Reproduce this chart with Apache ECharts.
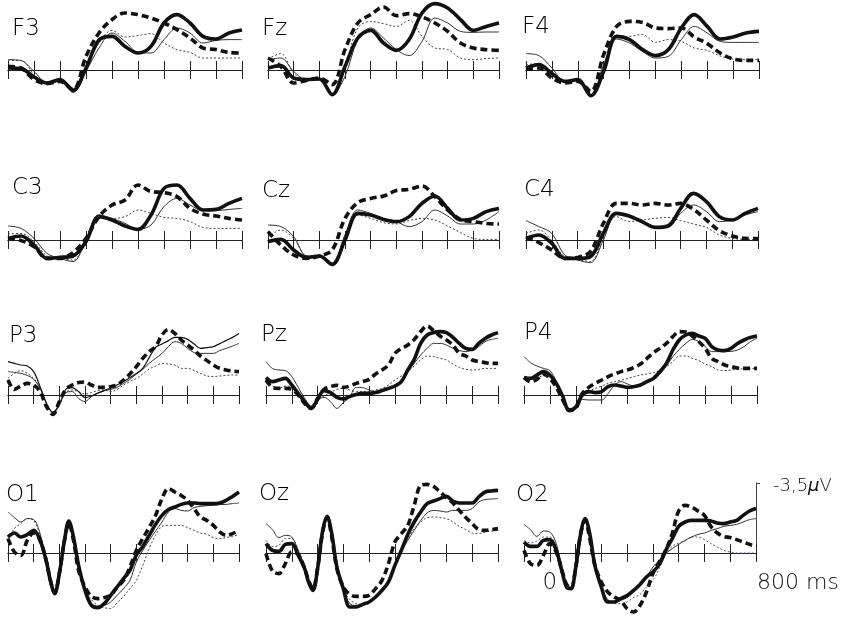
<!DOCTYPE html>
<html><head><meta charset="utf-8">
<script src="https://cdn.jsdelivr.net/npm/echarts@6/dist/echarts.min.js"></script>
<style>html,body{margin:0;padding:0;background:#fff}#c{width:848px;height:619px}</style>
</head><body><div id="c"></div>
<script>
// time samples (ms)
const T50 = [-100,-50,0,50,100,150,200,250,300,350,400,450,500,550,600,650,700,750,800];
const T25 = [-100,-75,-50,-25,0,25,50,75,100,125,150,175,200,225,250,275,300,325,350,375,400,425,450,475,500,525,550,575,600,625,650,675,700,725,750,775,800];
const T4 = [-100,-75,-50,-25,0,25,50,65,82,100,120,137,155,175,200,225,250,275,300,325,350,375,400,425,450,475,500,525,550,575,600,625,650,675,700,725,750,775,800];

const electrodes = ['F3','Fz','F4','C3','Cz','C4','P3','Pz','P4','O1','Oz','O2'];

// values in µV (negative plotted upward)
const F3_thick  = [-0.1,-0.07,0.35,0.65,0.48,1.02,-0.1,-1.5,-1.68,-1.18,-0.85,-1.18,-2.35,-2.77,-2.35,-1.68,-1.55,-1.85,-2.0];
const F3_dashed = [-0.18,-0.1,0.48,0.68,0.57,0.98,-0.68,-1.85,-2.52,-2.85,-2.77,-2.6,-2.35,-2.02,-1.6,-1.1,-1.02,-0.88,-0.85];
const F3_thin   = [-0.52,-0.47,0.07,0.62,0.52,1.12,0.07,-1.1,-1.85,-1.43,-0.88,-0.85,-1.52,-2.1,-1.85,-1.35,-1.48,-1.52,-1.52];
const F3_dotted = [-0.48,-0.48,0.23,0.65,0.52,1.07,-0.18,-1.35,-1.98,-1.65,-1.72,-1.82,-1.35,-1.02,-0.88,-0.6,-0.6,-0.6,-0.6];

const Fz_thick  = [-0.1,-0.22,0.4,0.48,0.45,1.23,-0.18,-1.6,-1.98,-1.35,-0.98,-1.52,-2.85,-3.32,-3.1,-2.52,-1.98,-2.18,-2.35];
const Fz_dashed = [-0.6,-0.18,0.65,0.52,0.4,0.73,-1.02,-2.35,-2.77,-3.15,-2.72,-2.82,-2.65,-2.35,-1.93,-1.35,-1.1,-1.02,-0.98];
const Fz_thin   = [-0.52,-0.6,0.07,0.48,0.42,1.23,0.32,-1.52,-2.1,-1.6,-1.02,-0.72,-1.43,-2.6,-2.35,-1.93,-1.88,-1.9,-1.9];
const Fz_dotted = [-0.55,-0.82,0.15,0.52,0.42,1.18,-0.18,-2.1,-2.43,-2.32,-2.18,-2.48,-1.68,-1.1,-1.02,-0.6,-0.52,-0.57,-0.6];

const F4_thick  = [-0.1,-0.27,0.18,0.57,0.48,1.28,0.07,-1.68,-1.52,-1.02,-0.72,-1.02,-2.1,-2.77,-2.18,-1.55,-1.65,-1.85,-1.93];
const F4_dashed = [-0.02,-0.1,0.4,0.65,0.57,1.07,-0.77,-2.18,-2.43,-2.38,-2.1,-2.07,-2.1,-1.65,-1.32,-0.85,-0.55,-0.48,-0.48];
const F4_thin   = [-0.82,-0.72,-0.1,0.57,0.52,1.32,-0.27,-1.55,-1.35,-0.93,-0.6,-0.68,-1.52,-2.18,-1.85,-1.43,-1.38,-1.38,-1.38];
const F4_dotted = [-0.27,-0.32,0.23,0.57,0.52,1.28,-0.18,-1.6,-1.68,-1.77,-1.38,-1.52,-1.43,-1.1,-0.98,-0.7,-0.55,-0.52,-0.52];

const C3_thick  = [-0.08,-0.2,0.25,0.92,0.87,0.8,0.08,-1.17,-1.0,-0.7,-0.53,-1.25,-2.58,-2.75,-2.08,-1.5,-1.53,-1.83,-2.08];
const C3_dashed = [-0.08,0.03,0.33,0.92,0.92,0.63,-0.08,-1.17,-1.75,-2.0,-2.75,-2.42,-2.37,-2.17,-1.58,-1.3,-1.2,-1.08,-1.0];
const C3_thin   = [-0.7,-0.58,-0.08,0.67,0.92,1.08,0,-1.25,-1.08,-0.83,-0.53,-0.75,-1.67,-2.08,-1.75,-1.47,-1.47,-1.53,-1.58];
const C3_dotted = [-0.3,-0.33,0.08,0.8,0.92,1.0,-0.03,-1.25,-1.08,-1.17,-1.5,-1.33,-1.13,-1.08,-0.92,-0.63,-0.58,-0.58,-0.58];

const Cz_thick  = [0.08,-0.03,0.5,0.87,0.8,1.22,0,-1.33,-1.25,-1.03,-0.92,-1.17,-1.83,-2.2,-1.58,-1.0,-1.08,-1.42,-1.58];
const Cz_dashed = [-0.42,0.25,0.75,0.92,0.8,0.5,-1.08,-1.87,-2.08,-2.2,-2.47,-2.53,-2.7,-2.17,-1.5,-1.03,-0.92,-0.83,-0.8];
const Cz_thin   = [-0.75,-0.67,-0.17,0.8,0.83,1.22,-0.25,-1.5,-1.33,-1.08,-0.92,-0.67,-0.92,-1.5,-1.2,-0.8,-0.8,-1.0,-1.42];
const Cz_dotted = [-0.13,-0.5,-0.08,0.8,0.83,1.17,-0.25,-1.25,-1.08,-0.87,-0.8,-0.97,-1.08,-1.0,-0.7,-0.37,-0.08,-0.03,-0.03];

const C4_thick  = [-0.08,-0.25,0.17,0.92,0.92,0.83,-0.33,-1.33,-1.2,-0.92,-0.63,-0.7,-1.58,-2.33,-1.92,-1.17,-1.0,-1.33,-1.58];
const C4_dashed = [-0.13,0.13,0.5,0.92,0.87,0.58,-0.83,-1.83,-1.83,-1.75,-1.83,-1.75,-1.83,-1.53,-1.0,-0.47,-0.2,-0.08,-0.07];
const C4_thin   = [-0.97,-0.67,-0.33,0.75,1.0,1.13,0,-1.3,-1.17,-0.97,-0.63,-0.63,-1.33,-1.75,-1.42,-0.92,-1.0,-1.25,-1.42];
const C4_dotted = [-0.33,-0.5,0.03,0.83,0.97,1.08,-0.13,-1.17,-0.92,-1.0,-1.08,-1.13,-0.97,-0.8,-0.63,-0.25,-0.08,-0.03,0];

const P3_thick  = [-1.67,-1.58,-1.5,-1.45,-1.17,-0.42,0.42,0.88,0.5,-0.28,-0.37,-0.17,0.13,0.05,-0.1,-0.22,-0.35,-0.5,-0.67,-0.87,-1.08,-1.33,-1.87,-2.38,-2.55,-2.72,-2.88,-2.88,-2.78,-2.55,-2.33,-2.37,-2.42,-2.57,-2.73,-2.88,-3.08];
const P3_dashed = [-0.75,-0.28,-0.45,-0.58,-0.5,-0.17,0.58,0.97,0.33,-0.28,-0.5,-0.62,-0.65,-0.5,-0.38,-0.38,-0.42,-0.5,-0.75,-1.05,-1.42,-1.83,-2.17,-2.42,-3.0,-3.28,-3.08,-2.75,-2.5,-2.25,-1.95,-1.72,-1.5,-1.33,-1.25,-1.2,-1.17];
const P3_thin   = [-1.17,-1.13,-1.08,-0.98,-0.78,-0.33,0.42,0.85,0.45,-0.12,-0.17,0.17,0.33,0.08,-0.08,-0.22,-0.28,-0.38,-0.58,-0.78,-1.05,-1.28,-1.58,-1.83,-2.08,-2.42,-2.67,-2.58,-2.33,-2.12,-2.08,-2.08,-2.08,-2.22,-2.33,-2.45,-2.58];
const P3_dotted = [-0.83,-1.08,-1.22,-1.08,-0.83,-0.38,0.42,0.88,0.45,-0.12,-0.25,-0.17,-0.05,-0.12,-0.22,-0.25,-0.17,-0.28,-0.5,-0.67,-0.83,-1.05,-1.3,-1.45,-1.58,-1.55,-1.5,-1.33,-1.33,-1.22,-1.08,-0.95,-0.92,-0.95,-0.98,-1.0,-1.0];

const Pz_thick  = [-0.88,-0.67,-0.75,-0.83,-0.5,-0.08,0.33,0.67,0.22,-0.22,-0.12,0.12,0.2,0.08,-0.03,-0.08,-0.08,-0.12,-0.22,-0.33,-0.45,-0.67,-1.25,-1.78,-2.58,-3.0,-3.12,-3.17,-3.12,-2.88,-2.58,-2.33,-2.28,-2.58,-2.83,-3.0,-3.12];
const Pz_dashed = [-0.75,-0.38,-0.33,-0.33,-0.28,0,0.42,0.67,0.18,-0.28,-0.42,-0.48,-0.38,-0.45,-0.58,-0.67,-0.78,-1.05,-1.25,-1.5,-2.08,-2.33,-2.5,-2.78,-3.17,-3.45,-3.22,-2.95,-2.75,-2.5,-2.08,-1.95,-1.75,-1.67,-1.62,-1.58,-1.58];
const Pz_thin   = [-1.67,-1.33,-1.25,-1.22,-0.92,-0.38,0.17,0.55,0.25,0.12,0.33,0.67,0.38,0.08,-0.38,-0.37,-0.25,-0.17,-0.22,-0.32,-0.42,-0.75,-1.17,-1.58,-2.0,-2.33,-2.58,-2.58,-2.5,-2.33,-2.22,-2.17,-2.25,-2.42,-2.67,-2.78,-2.83];
const Pz_dotted = [-0.67,-0.45,-0.33,-0.45,-0.38,0,0.38,0.62,0.25,0.05,-0.12,-0.28,-0.33,-0.25,-0.17,-0.17,-0.17,-0.25,-0.33,-0.5,-0.75,-0.95,-1.17,-1.45,-1.75,-1.95,-1.92,-1.83,-1.75,-1.55,-1.38,-1.28,-1.25,-1.28,-1.33,-1.33,-1.33];

const P4_thick  = [-0.88,-0.83,-1.0,-1.17,-1.0,-0.58,0.08,0.78,0.6,0,-0.17,-0.12,-0.17,-0.42,-0.5,-0.45,-0.38,-0.42,-0.5,-0.67,-0.83,-1.17,-1.58,-2.25,-2.75,-3.0,-3.08,-2.95,-2.83,-2.42,-2.25,-2.22,-2.33,-2.58,-2.75,-2.88,-2.95];
const P4_dashed = [-0.88,-0.67,-0.78,-1.05,-0.83,-0.38,0.25,0.75,0.67,-0.08,-0.38,-0.58,-0.75,-0.92,-1.05,-1.17,-1.25,-1.38,-1.55,-1.83,-2.12,-2.33,-2.58,-2.92,-3.17,-3.15,-2.95,-2.67,-2.33,-1.83,-1.67,-1.5,-1.42,-1.35,-1.33,-1.33,-1.33];
const P4_thin   = [-1.92,-1.62,-1.45,-1.33,-1.22,-0.67,0,0.67,0.67,0.22,0.25,0.25,0.25,-0.08,-0.5,-0.67,-0.55,-0.45,-0.5,-0.62,-0.78,-1.05,-1.45,-1.92,-2.28,-2.58,-2.78,-2.67,-2.42,-2.17,-2.17,-2.17,-2.18,-2.25,-2.42,-2.67,-2.83];
const P4_dotted = [-0.88,-0.83,-0.88,-0.95,-0.88,-0.45,0.17,0.72,0.67,0.08,-0.17,-0.33,-0.45,-0.58,-0.67,-0.75,-0.82,-0.92,-1.0,-1.05,-1.12,-1.22,-1.42,-1.67,-1.95,-1.95,-1.83,-1.72,-1.55,-1.42,-1.25,-1.22,-1.25,-1.28,-1.32,-1.33,-1.33];

const O1_thick  = [-0.8,-1.0,-0.8,-0.92,-1.13,-0.63,0.45,1.37,2.03,1.03,-0.63,-1.6,-0.8,0.62,1.87,2.62,2.73,2.53,2.12,1.7,1.28,0.87,0.1,-0.33,-0.88,-1.43,-1.88,-2.17,-2.3,-2.43,-2.5,-2.5,-2.47,-2.47,-2.47,-2.5,-2.63,-2.83,-3.05];
const O1_dashed = [-0.72,-0.05,0.12,-0.63,-1.0,-0.63,0.45,1.37,2.0,1.03,-0.63,-1.47,-0.63,0.87,1.7,2.17,2.28,2.23,2.12,1.7,1.37,0.7,-0.13,-0.72,-1.27,-1.88,-2.72,-3.22,-3.05,-2.88,-2.63,-2.22,-1.8,-1.63,-1.38,-1.05,-0.88,-0.97,-1.13];
const O1_thin   = [-2.05,-1.77,-1.55,-1.72,-1.67,-0.97,0.45,1.37,1.95,0.95,-0.63,-1.5,-0.72,0.7,1.95,2.53,2.67,2.62,2.45,2.12,1.78,1.37,0.45,-0.13,-0.63,-1.1,-1.55,-2.05,-2.22,-2.13,-2.1,-2.27,-2.33,-2.37,-2.38,-2.42,-2.43,-2.47,-2.5];
const O1_dotted = [-0.72,-1.22,-1.47,-1.72,-1.63,-0.88,0.45,1.33,1.95,0.95,-0.63,-1.55,-0.63,0.78,1.78,2.33,2.62,2.73,2.78,2.5,2.17,1.78,1.37,0.62,-0.22,-0.88,-1.33,-1.38,-1.38,-1.38,-1.27,-1.13,-1.0,-0.93,-0.77,-0.72,-0.77,-0.83,-0.93];

const Oz_thick  = [-0.47,-0.13,-0.08,-0.43,-0.47,0.12,0.78,1.45,1.87,0.78,-1.13,-1.83,-0.97,0.7,1.78,2.7,2.7,2.57,2.45,2.2,1.87,1.45,0.62,-0.13,-0.93,-1.55,-2.05,-2.47,-2.6,-2.72,-2.83,-2.6,-2.5,-2.5,-2.5,-2.8,-3.05,-3.1,-3.13];
const Oz_dashed = [0.03,0.9,1.03,0.53,-0.05,0.07,0.78,1.37,1.78,0.78,-1.05,-1.77,-0.8,0.78,1.7,2.07,2.17,2.17,2.12,1.78,1.37,0.53,-0.55,-0.97,-1.38,-2.38,-3.38,-3.43,-3.33,-3.05,-2.77,-2.5,-2.13,-1.77,-1.47,-1.17,-1.13,-1.17,-1.22];
const Oz_thin   = [-1.47,-1.17,-0.77,-0.88,-0.8,-0.13,0.7,1.33,1.78,0.78,-1.1,-1.8,-0.88,0.78,1.87,2.53,2.62,2.57,2.45,2.12,1.78,1.37,0.7,-0.05,-0.63,-1.13,-1.63,-2.0,-2.13,-2.1,-2.05,-2.13,-2.13,-2.13,-2.22,-2.55,-2.67,-2.7,-2.72];
const Oz_dotted = [-0.63,-0.33,-0.38,-0.72,-0.72,-0.13,0.7,1.33,1.78,0.78,-1.05,-1.77,-0.8,0.62,1.78,2.33,2.53,2.57,2.53,2.2,1.87,1.37,0.53,-0.22,-0.72,-1.22,-1.55,-1.77,-1.8,-1.77,-1.72,-1.55,-1.33,-1.17,-1.0,-0.97,-1.05,-1.1,-1.13];

const O2_thick  = [-0.55,-0.33,-0.33,-0.63,-0.67,-0.13,1.05,1.7,1.78,0.78,-0.97,-1.72,-0.97,0.62,1.7,2.45,2.45,2.28,2.12,1.87,1.57,1.2,0.95,0.57,-0.13,-0.72,-1.33,-1.55,-1.63,-1.63,-1.63,-1.6,-1.5,-1.47,-1.55,-1.63,-1.88,-2.1,-2.22];
const O2_dashed = [-0.13,0.53,0.62,0.12,-0.47,-0.05,1.0,1.57,1.78,0.78,-0.97,-1.63,-0.72,0.62,1.45,1.95,2.2,2.37,2.78,2.95,2.62,1.95,1.03,0.45,-0.13,-0.97,-2.1,-2.38,-2.3,-2.1,-1.88,-1.33,-1.0,-0.83,-0.77,-0.67,-0.55,-0.43,-0.33];
const O2_thin   = [-1.43,-1.17,-0.83,-1.1,-1.05,-0.47,0.95,1.53,1.78,0.78,-1.0,-1.72,-0.88,0.62,1.7,2.33,2.45,2.37,2.23,1.95,1.57,1.2,0.7,0.37,0.03,-0.22,-0.43,-0.63,-0.8,-0.93,-1.0,-1.13,-1.22,-1.33,-1.38,-1.43,-1.55,-1.67,-1.72];
const O2_dotted = [-0.63,-0.5,-0.6,-0.8,-0.8,-0.3,0.95,1.53,1.78,0.78,-1.0,-1.67,-0.8,0.7,1.78,2.33,2.53,2.53,2.45,2.23,2.07,1.7,1.37,0.78,0.03,-0.33,-0.5,-0.6,-0.8,-0.8,-0.67,-0.47,-0.3,-0.13,-0.05,0,0,0,0];

const scaleValue = -3.5; // µV scale bar
const axisLabelTimes = [0, 800];

const panels = [
  {t:T50, s:[F3_thick,F3_dashed,F3_thin,F3_dotted]},
  {t:T50, s:[Fz_thick,Fz_dashed,Fz_thin,Fz_dotted]},
  {t:T50, s:[F4_thick,F4_dashed,F4_thin,F4_dotted]},
  {t:T50, s:[C3_thick,C3_dashed,C3_thin,C3_dotted]},
  {t:T50, s:[Cz_thick,Cz_dashed,Cz_thin,Cz_dotted]},
  {t:T50, s:[C4_thick,C4_dashed,C4_thin,C4_dotted]},
  {t:T25, s:[P3_thick,P3_dashed,P3_thin,P3_dotted]},
  {t:T25, s:[Pz_thick,Pz_dashed,Pz_thin,Pz_dotted]},
  {t:T25, s:[P4_thick,P4_dashed,P4_thin,P4_dotted]},
  {t:T4, s:[O1_thick,O1_dashed,O1_thin,O1_dotted]},
  {t:T4, s:[Oz_thick,Oz_dashed,Oz_thin,Oz_dotted]},
  {t:T4, s:[O2_thick,O2_dashed,O2_thin,O2_dotted]}
];

// layout: [left, width, baselineY, labelX, labelCapTop]
const layout = [
  [8,234,70, 13,22],[268,231,70, 263,22],[526,233,70, 523,20],
  [8,234,240, 13,181],[268,231,240, 263,184],[526,232,240, 525,183],
  [8,231,395, 10,329],[266,232,395, 262,328],[524,233,395, 525,326],
  [8,231,553, 7,488],[266,232,553, 260,487],[524,232,553, 517,488]
];

const FONT = "'DejaVu Sans', sans-serif";
const grids=[], xAxes=[], yAxes=[], series=[], titles=[];

panels.forEach((p,i)=>{
  const [left,width,base,lx,ly] = layout[i];
  grids.push({left:left, width:width, top:base-70, height:140, containLabel:false, outerBoundsMode:'none'});
  const ax = (pos) => ({
    type:'value', gridIndex:i, position:pos, min:-100, max:800, interval:100,
    axisLine:{show:true, onZero:true, onZeroAxisIndex:i, lineStyle:{color:'#222', width:1}},
    axisTick:{show:true, length:9, lineStyle:{color:'#222', width:1}},
    splitLine:{show:false}, axisLabel:{show:false}
  });
  xAxes.push(ax('bottom'));
  xAxes.push(ax('top'));
  yAxes.push({type:'value', gridIndex:i, min:-3.5, max:3.5, inverse:true, show:false});
  const isO2 = i===11;
  const styles = [
    {color:'#111', width: i===6 ? 1.2 : 3.6, type:'solid'},
    {color:'#111', width:3.6, type:[7,4]},
    {color:'#333', width:1, type:'solid'},
    {color: isO2 ? '#5a4aa8' : '#444', width:1, type:[2,2]}
  ];
  const order = [3,2,1,0];
  order.forEach(k=>{
    series.push({
      type:'line', xAxisIndex:2*i, yAxisIndex:i,
      data: p.t.map((t,j)=>[t, p.s[k][j]]),
      showSymbol:false, symbol:'none', smooth:0.35, clip:false, silent:true,
      lineStyle:styles[k], z: 2 + order.indexOf(k)
    });
  });
  titles.push({text:electrodes[i], left:lx-1, top:ly-4, padding:0,
    textStyle:{fontSize:23, fontWeight:200, color:'#000', fontFamily:FONT}});
});

// scale bar + time labels grid on O2 (bottom edge = O2 baseline)
grids.push({left:524, width:232, top:483, height:70, containLabel:false, outerBoundsMode:'none'});
xAxes.push({type:'value', gridIndex:12, position:'bottom', min:-100, max:800, interval:100,
  axisLine:{show:false, onZero:false}, axisTick:{show:false}, splitLine:{show:false},
  axisLabel:{show:true, customValues:axisLabelTimes, margin:19, color:'#111', fontFamily:FONT,
    formatter: v => v === 0 ? '{a|0}' : '{b|800 ms}',
    rich:{a:{fontSize:23, fontFamily:FONT, fontWeight:200, color:'#111'},
          b:{fontSize:22, fontFamily:FONT, fontWeight:200, color:'#111', padding:[0,0,0,84]}}}
});
yAxes.push({type:'value', gridIndex:12, position:'right', min:scaleValue, max:0, inverse:true,
  axisLine:{show:true, onZero:false, lineStyle:{color:'#444', width:1}},
  axisTick:{show:true, customValues:[scaleValue], length:4, lineStyle:{color:'#444'}},
  splitLine:{show:false},
  axisLabel:{show:true, customValues:[scaleValue], margin:17, color:'#111', fontFamily:FONT, fontSize:18, fontWeight:200,
    formatter: v => '-3,5{m|μ}V',
    rich:{m:{fontSize:18, fontStyle:'italic', fontFamily:FONT, fontWeight:200, color:'#111'}}, padding:[6,0,0,0]}
});

const chart = echarts.init(document.getElementById('c'), null, {renderer:'canvas'});
chart.setOption({
  animation:false, backgroundColor:'#fff',
  title:titles, grid:grids, xAxis:xAxes, yAxis:yAxes, series:series
});
</script></body></html>
